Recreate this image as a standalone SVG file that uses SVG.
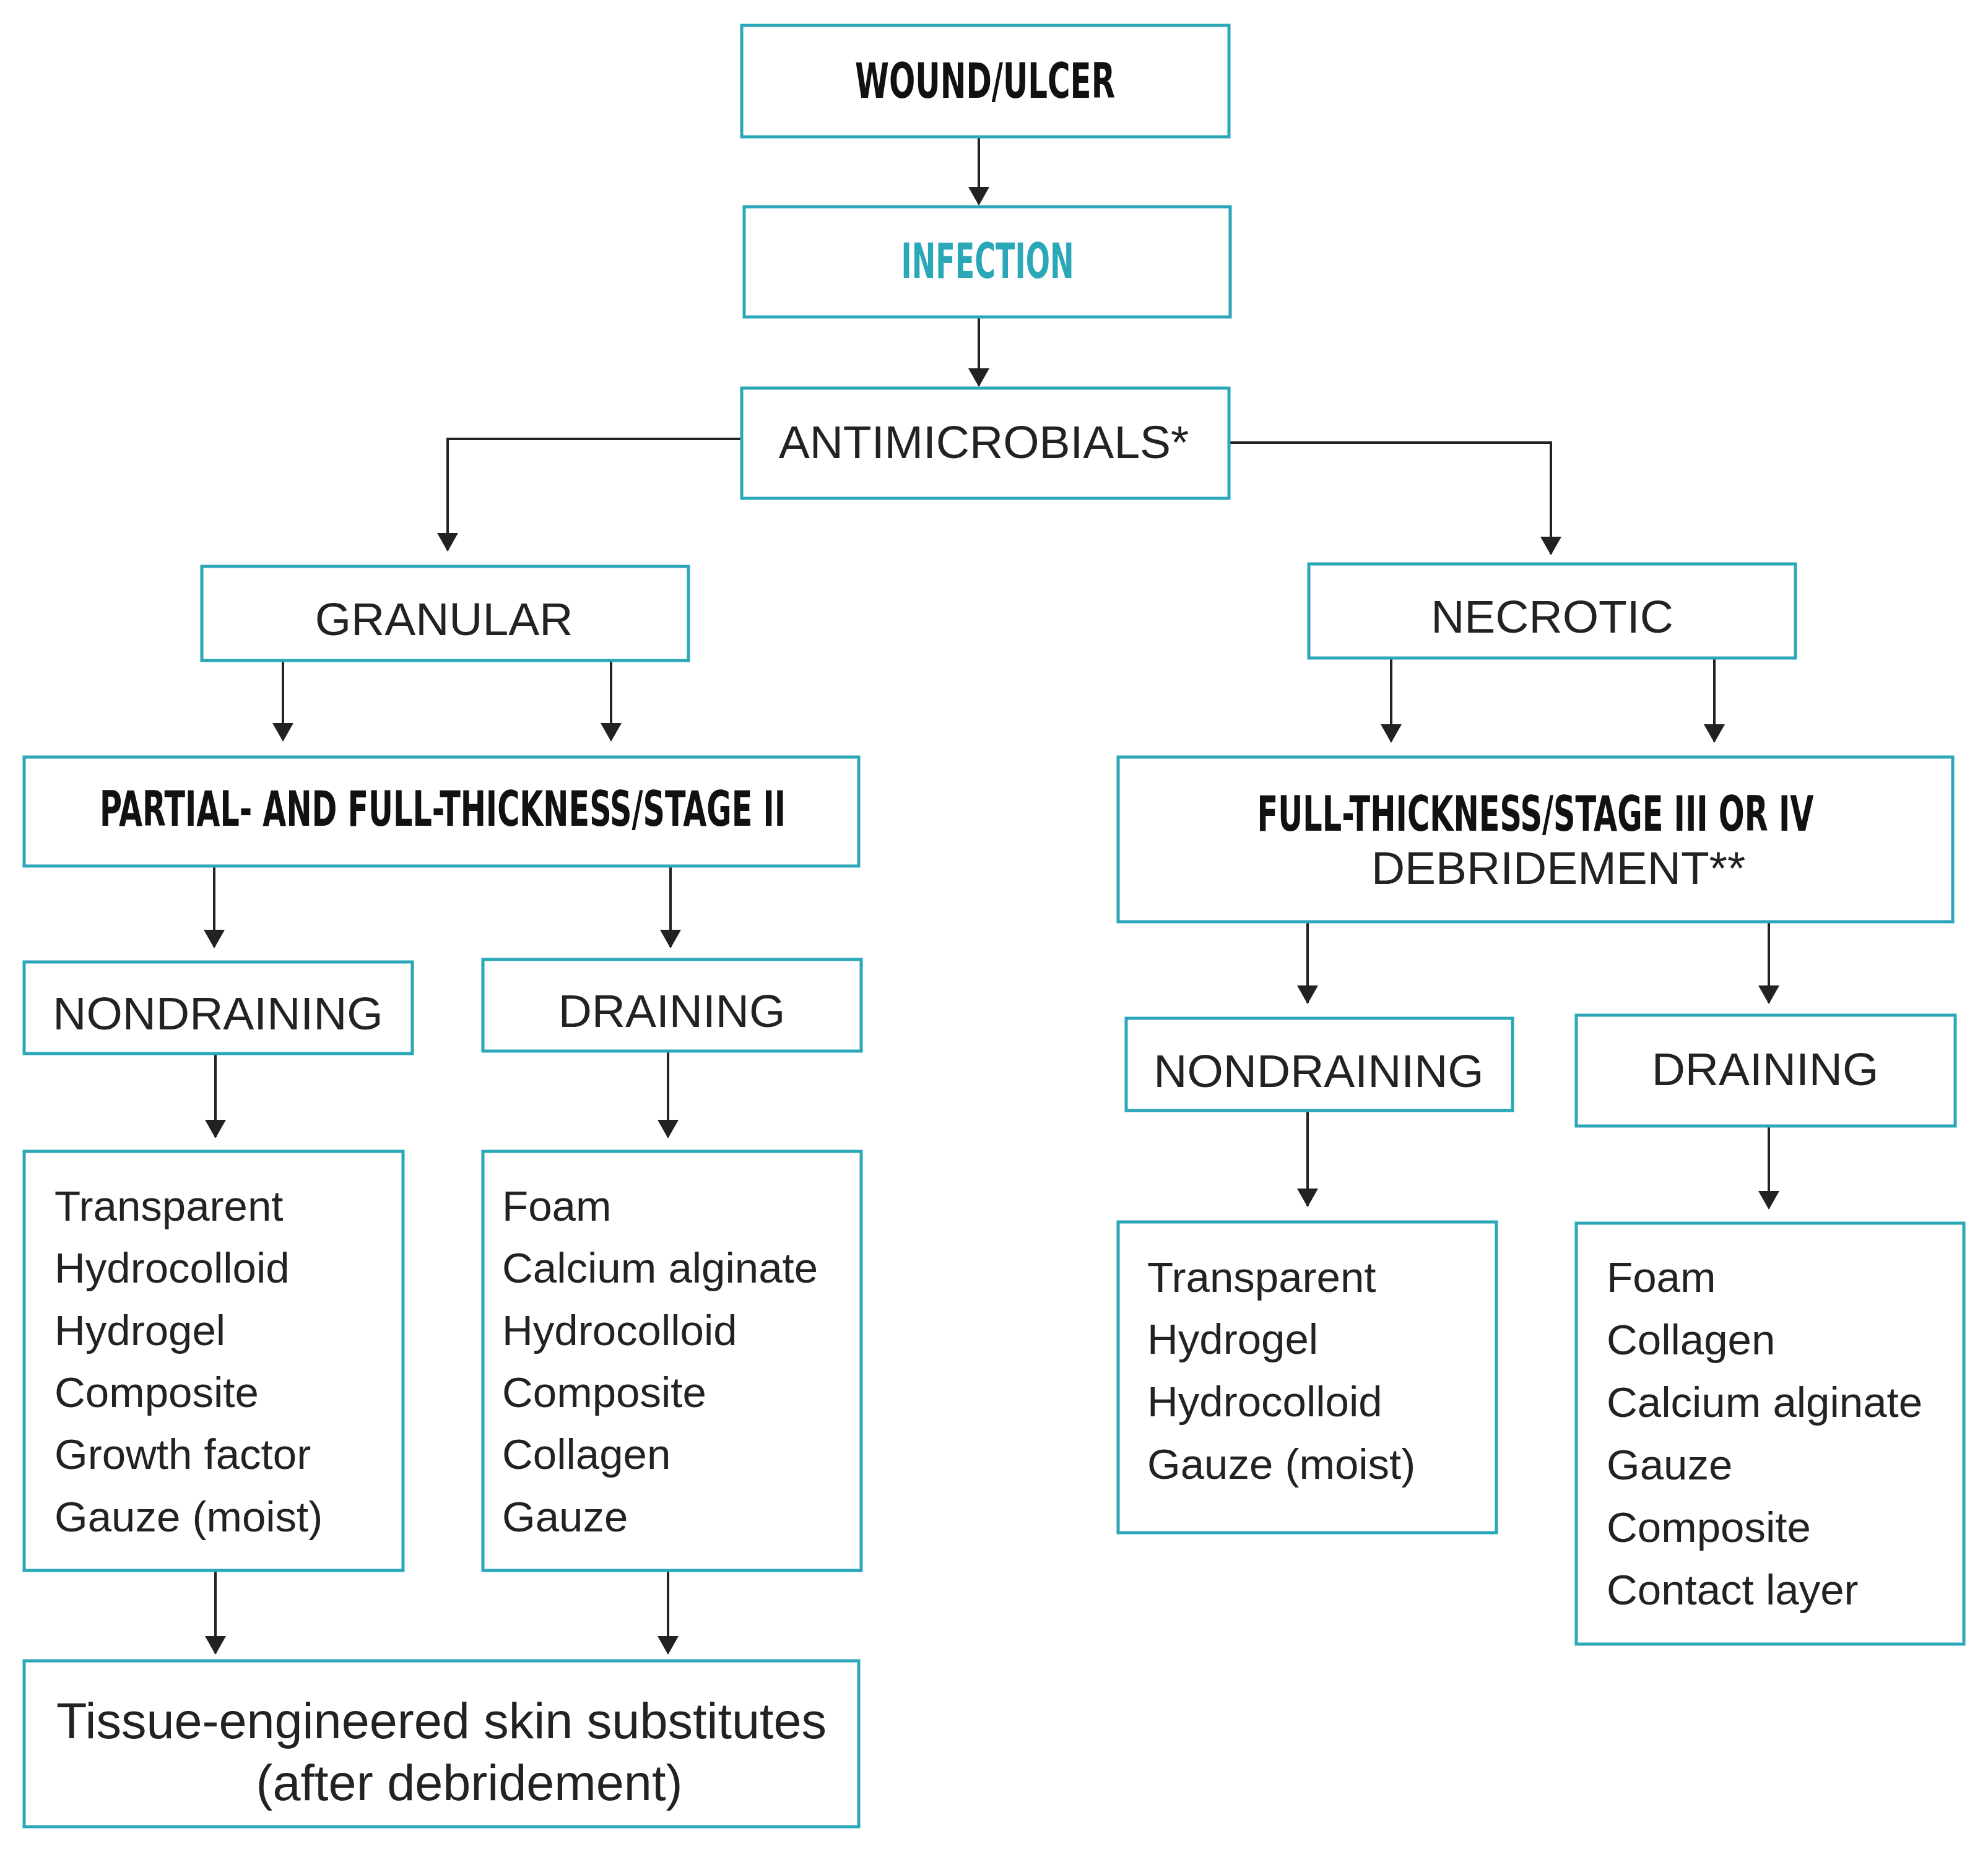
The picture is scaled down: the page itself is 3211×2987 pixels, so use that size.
<svg xmlns="http://www.w3.org/2000/svg" width="3211" height="2987" viewBox="0 0 3211 2987">
<style>
.b{fill:#fff;stroke:#2ba8b8;stroke-width:5}
.t{font-family:"Liberation Sans",Arial,sans-serif;font-size:75px;fill:#222;text-anchor:middle}
.h{font-family:"Liberation Sans Narrow","DejaVu Sans Condensed","Liberation Sans",sans-serif;font-weight:bold;font-size:78px;fill:#111;text-anchor:middle}
.l{font-family:"Liberation Sans",Arial,sans-serif;font-size:69px;fill:#222}
.c line,.c path{stroke:#222;stroke-width:4;fill:none;marker-end:url(#a)}
</style>
<defs><marker id="a" markerWidth="30" markerHeight="34" refX="28" refY="17" orient="auto" markerUnits="userSpaceOnUse" viewBox="0 0 30 34"><path d="M0,0 L30,17 L0,34 Z" fill="#222"/></marker></defs>
<rect width="3211" height="2987" fill="#fff"/>
<g class="c">
<line x1="1581" y1="221" x2="1581" y2="330"/>
<line x1="1581" y1="512" x2="1581" y2="623"/>
<path d="M1198,709 H723 V889"/>
<path d="M1985,715 H2505 V895"/>
<line x1="457" y1="1067" x2="457" y2="1196"/>
<line x1="987" y1="1067" x2="987" y2="1196"/>
<line x1="2247" y1="1063" x2="2247" y2="1198"/>
<line x1="2769" y1="1063" x2="2769" y2="1198"/>
<line x1="346" y1="1399" x2="346" y2="1530"/>
<line x1="1083" y1="1399" x2="1083" y2="1530"/>
<line x1="2112" y1="1489" x2="2112" y2="1620"/>
<line x1="2857" y1="1489" x2="2857" y2="1620"/>
<line x1="348" y1="1702" x2="348" y2="1837"/>
<line x1="1079" y1="1698" x2="1079" y2="1837"/>
<line x1="2112" y1="1794" x2="2112" y2="1948"/>
<line x1="2857" y1="1819" x2="2857" y2="1952"/>
<line x1="348" y1="2537" x2="348" y2="2671"/>
<line x1="1079" y1="2537" x2="1079" y2="2671"/>
</g>
<g id="wound"><rect class="b" x="1198" y="41" width="787" height="180"/><text class="h" x="1591" y="158" textLength="420" lengthAdjust="spacingAndGlyphs">WOUND/ULCER</text></g>
<g id="infection"><rect class="b" x="1202" y="334" width="785" height="178"/><text class="h" x="1595" y="449" style="fill:#2ba8b8" textLength="279" lengthAdjust="spacingAndGlyphs">INFECTION</text></g>
<g id="antimicrobials"><rect class="b" x="1198" y="627" width="787" height="178"/><text class="t" x="1589" y="740">ANTIMICROBIALS*</text></g>
<g id="granular"><rect class="b" x="326" y="915" width="786" height="152"/><text class="t" x="717" y="1026">GRANULAR</text></g>
<g id="necrotic"><rect class="b" x="2114" y="911" width="786" height="152"/><text class="t" x="2507" y="1022">NECROTIC</text></g>
<g id="partial"><rect class="b" x="39" y="1223" width="1348" height="176"/><text class="h" x="715" y="1334" textLength="1108" lengthAdjust="spacingAndGlyphs">PARTIAL- AND FULL-THICKNESS/STAGE II</text></g>
<g id="full"><rect class="b" x="1806" y="1223" width="1348" height="266"/><text class="h" x="2480" y="1342" textLength="899" lengthAdjust="spacingAndGlyphs">FULL-THICKNESS/STAGE III OR IV</text><text class="t" x="2517" y="1428">DEBRIDEMENT**</text></g>
<g id="nondrainL"><rect class="b" x="39" y="1554" width="627" height="148"/><text class="t" x="352" y="1663">NONDRAINING</text></g>
<g id="drainL"><rect class="b" x="780" y="1550" width="611" height="148"/><text class="t" x="1085" y="1659">DRAINING</text></g>
<g id="nondrainR"><rect class="b" x="1819" y="1645" width="624" height="149"/><text class="t" x="2130" y="1756">NONDRAINING</text></g>
<g id="drainR"><rect class="b" x="2546" y="1640" width="612" height="179"/><text class="t" x="2851" y="1753">DRAINING</text></g>
<g id="listL1"><rect class="b" x="39" y="1860" width="612" height="677"/>
<text class="l" x="88" y="1972">Transparent</text><text class="l" x="88" y="2072">Hydrocolloid</text><text class="l" x="88" y="2173">Hydrogel</text><text class="l" x="88" y="2273">Composite</text><text class="l" x="88" y="2373">Growth factor</text><text class="l" x="88" y="2474">Gauze (moist)</text></g>
<g id="listL2"><rect class="b" x="780" y="1860" width="611" height="677"/>
<text class="l" x="811" y="1972">Foam</text><text class="l" x="811" y="2072">Calcium alginate</text><text class="l" x="811" y="2173">Hydrocolloid</text><text class="l" x="811" y="2273">Composite</text><text class="l" x="811" y="2373">Collagen</text><text class="l" x="811" y="2474">Gauze</text></g>
<g id="listR1"><rect class="b" x="1806" y="1974" width="611" height="502"/>
<text class="l" x="1853" y="2087">Transparent</text><text class="l" x="1853" y="2187">Hydrogel</text><text class="l" x="1853" y="2288">Hydrocolloid</text><text class="l" x="1853" y="2389">Gauze (moist)</text></g>
<g id="listR2"><rect class="b" x="2546" y="1976" width="626" height="680"/>
<text class="l" x="2595" y="2087">Foam</text><text class="l" x="2595" y="2188">Collagen</text><text class="l" x="2595" y="2289">Calcium alginate</text><text class="l" x="2595" y="2390">Gauze</text><text class="l" x="2595" y="2491">Composite</text><text class="l" x="2595" y="2592">Contact layer</text></g>
<g id="tissue"><rect class="b" x="39" y="2683" width="1348" height="268"/>
<text class="t" x="713" y="2808" style="font-size:81px">Tissue-engineered skin substitutes</text><text class="t" x="758" y="2908" style="font-size:81px">(after debridement)</text></g>
</svg>
